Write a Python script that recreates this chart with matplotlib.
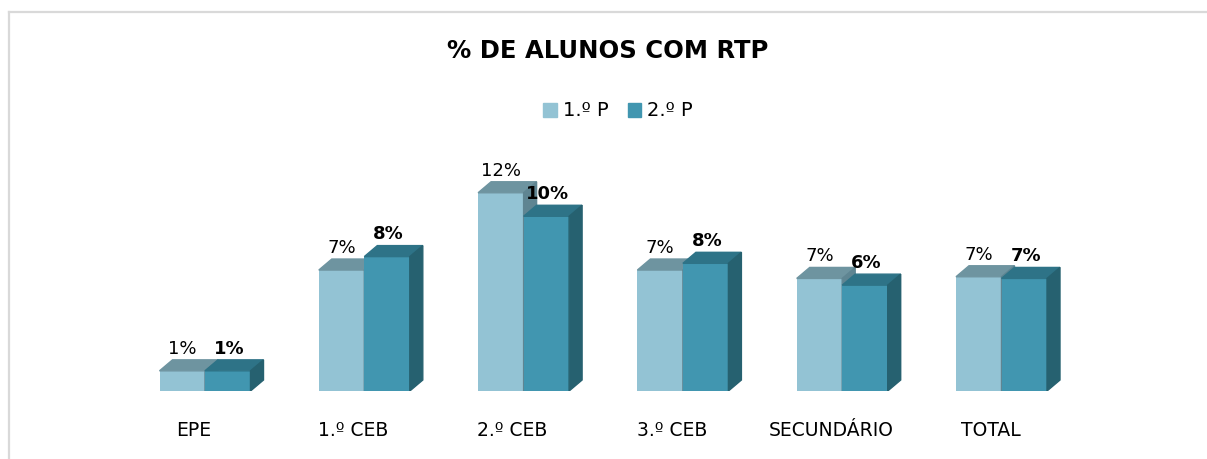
import matplotlib.pyplot as plt
import matplotlib.transforms as mtransforms
from matplotlib.patches import Polygon, Patch
from matplotlib.lines import Line2D
import numpy as np

# Dados: percentagem de alunos com RTP por nível de ensino
categorias = ['EPE', '1.º CEB', '2.º CEB', '3.º CEB', 'SECUNDÁRIO', 'TOTAL']
periodo_1 = [1.2, 7.2, 11.8, 7.2, 6.7, 6.8]
periodo_2 = [1.2, 8.0, 10.4, 7.6, 6.3, 6.7]
series = ['1.º P', '2.º P']

# cores: frente, topo, lado
cores_1 = ('#93c3d4', '#6e94a0', '#5f8592')
cores_2 = ('#4196b0', '#2e7387', '#266170')

W, H, DPI = 1207, 459, 100
fig = plt.figure(figsize=(W / DPI, H / DPI), dpi=DPI)
plt.rcParams['font.family'] = 'DejaVu Sans'

# eixo posicionado em pixels: base das barras em y=391, 16.8 px por ponto percentual
px_cat = 159.3
x_esq = 205 - px_cat / 2
base_y = 391
px_pct = 16.8
y_max = 14
ax = fig.add_axes([x_esq / W, (H - base_y) / H, 6 * px_cat / W, y_max * px_pct / H])
ax.set_xlim(-0.5, 5.5)
ax.set_ylim(0, y_max)
ax.axis('off')

largura = 45.5 / px_cat
# profundidade das barras (em pixels convertidos para unidades de dados)
prof_x = 13 / px_cat
prof_y = 11 / px_pct


def barra_3d(x, h, cores, zorder):
    frente, topo, lado = cores
    x0, x1 = x - largura / 2, x + largura / 2
    ax.bar(x, h, width=largura, color=frente, zorder=zorder)
    ax.add_patch(Polygon([(x0, h), (x1, h), (x1 + prof_x, h + prof_y), (x0 + prof_x, h + prof_y)],
                         closed=True, color=topo, zorder=zorder))
    ax.add_patch(Polygon([(x1, 0), (x1 + prof_x, prof_y), (x1 + prof_x, h + prof_y), (x1, h)],
                         closed=True, color=lado, zorder=zorder))


x = np.arange(len(categorias))
for i in range(len(categorias)):
    barra_3d(x[i] - largura / 2, periodo_1[i], cores_1, 2 + 2 * i)
    barra_3d(x[i] + largura / 2, periodo_2[i], cores_2, 3 + 2 * i)

for i in range(len(categorias)):
    ax.annotate('%.0f%%' % periodo_1[i], (x[i] - largura / 2, periodo_1[i]),
                xytext=(0, 16), textcoords='offset points', ha='center', va='center',
                fontsize=13, color='#000000', zorder=30)
    ax.annotate('%.0f%%' % periodo_2[i], (x[i] + largura / 2, periodo_2[i]),
                xytext=(1, 16), textcoords='offset points', ha='center', va='center',
                fontsize=13, fontweight='bold', color='#000000', zorder=30)

# rótulos das categorias, ligeiramente deslocados para a esquerda
desloc = mtransforms.ScaledTranslation(-11 / DPI, -39 / DPI, fig.dpi_scale_trans)
for i, cat in enumerate(categorias):
    ax.text(x[i], 0, cat, ha='center', va='center', fontsize=13.5,
            transform=ax.transData + desloc)

fig.text(608 / W, 1 - 51 / H, '% DE ALUNOS COM RTP', ha='center', va='center',
         fontsize=17.5, fontweight='bold')

handles = [Patch(color=cores_1[0]), Patch(color=cores_2[0])]
fig.legend(handles, series, loc='center', bbox_to_anchor=(618 / W, 1 - 111 / H), ncol=2,
           frameon=False, fontsize=14, handlelength=0.7, handleheight=0.7,
           handletextpad=0.3, columnspacing=1.0)

# moldura cinzenta (apenas topo e lado esquerdo)
fig.add_artist(Line2D([8.5 / W, 1], [1 - 11.5 / H, 1 - 11.5 / H], color='#d9d9d9', linewidth=1.6))
fig.add_artist(Line2D([8.5 / W, 8.5 / W], [0, 1 - 11.5 / H], color='#d9d9d9', linewidth=1.6))

fig.savefig('out.png', dpi=DPI)
